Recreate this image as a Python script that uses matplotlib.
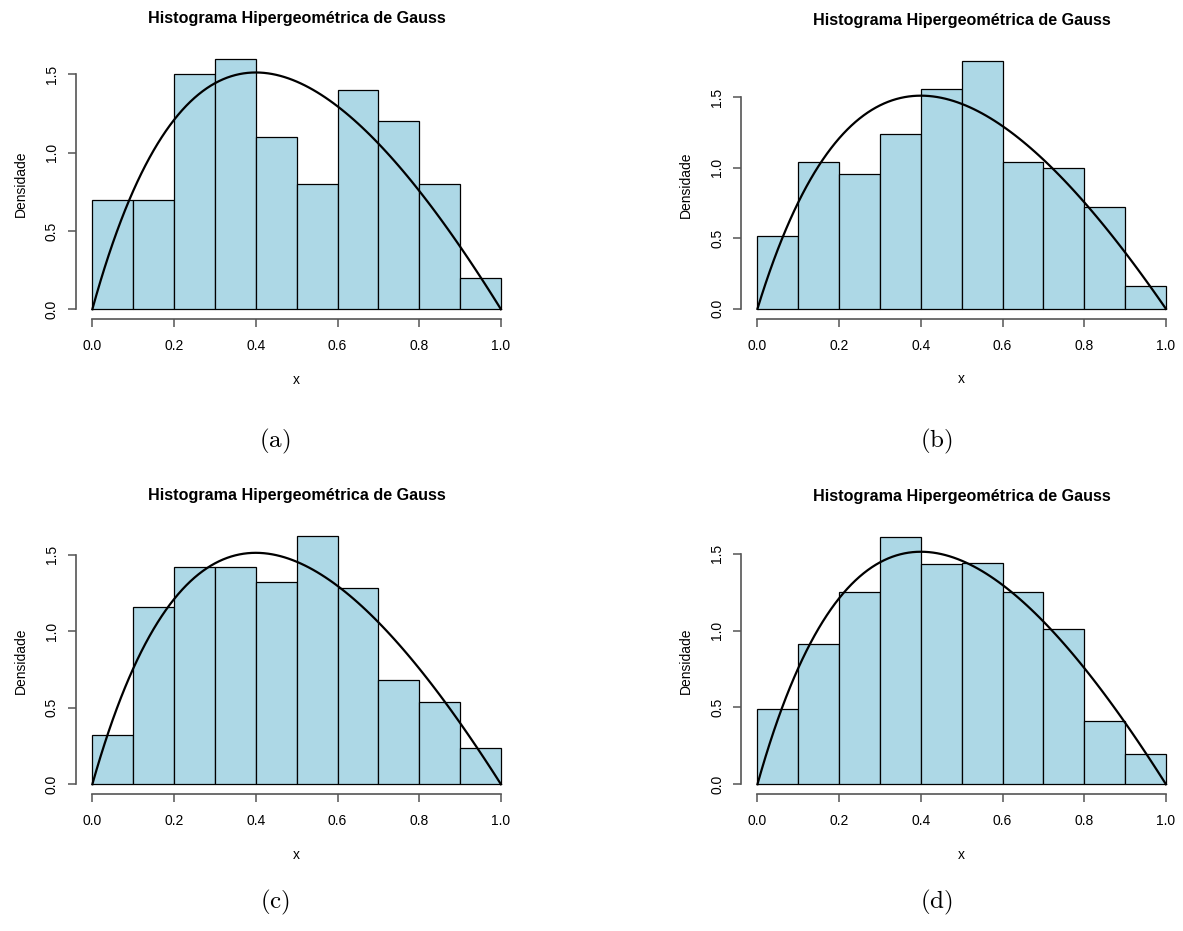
import numpy as np
import matplotlib.pyplot as plt

plt.rcParams['font.family'] = ['Liberation Sans', 'DejaVu Sans']
plt.rcParams['mathtext.fontset'] = 'cm'

# histogram densities, bins of width 0.1 on [0, 1]
bin_edges = [0.0, 0.1, 0.2, 0.3, 0.4, 0.5, 0.6, 0.7, 0.8, 0.9, 1.0]
dens_a = [0.70, 0.70, 1.50, 1.60, 1.10, 0.80, 1.40, 1.20, 0.80, 0.20]
dens_b = [0.52, 1.04, 0.96, 1.24, 1.56, 1.76, 1.04, 1.00, 0.72, 0.16]
dens_c = [0.32, 1.16, 1.42, 1.42, 1.32, 1.62, 1.28, 0.68, 0.54, 0.24]
dens_d = [0.49, 0.91, 1.25, 1.61, 1.43, 1.44, 1.25, 1.01, 0.41, 0.20]
captions = ['(a)', '(b)', '(c)', '(d)']

x_ticks = [0.0, 0.2, 0.4, 0.6, 0.8, 1.0]
y_ticks = [0.0, 0.5, 1.0, 1.5]

# Gauss hypergeometric density: x^(a-1) (1-x)^(b-1) / (1 + z x)^c
gh_a, gh_b, gh_c, gh_z = 2.0, 2.0, 1.0, 1.25


def gh_density(x):
    return x ** (gh_a - 1) * (1 - x) ** (gh_b - 1) / (1 + gh_z * x) ** gh_c


xs_fine = np.linspace(0, 1, 2001)
gh_norm = np.trapezoid(gh_density(xs_fine), xs_fine)
xs = np.linspace(0, 1, 101)
ys = gh_density(xs) / gh_norm

W, H = 1183, 931
fig = plt.figure(figsize=(W / 100, H / 100), dpi=100)

# plot regions in pixels: left, top, right, bottom
boxes = [(76, 48.7, 517.3, 319.3), (741.1, 50.8, 1182.3, 318.8),
         (76, 526.4, 517.3, 794.2), (741.1, 526.8, 1182.3, 794.2)]
caption_pos = [(275, 441), (936, 441), (275, 902), (936, 902)]

for dens, box, cap, cpos in zip([dens_a, dens_b, dens_c, dens_d], boxes,
                                captions, caption_pos):
    l, t, r, b = box
    ax = fig.add_axes([l / W, 1 - b / H, (r - l) / W, (b - t) / H])
    ymax = max(dens)
    ax.bar(bin_edges[:-1], dens, width=0.1, align='edge', color='#ADD8E6',
           edgecolor='black', linewidth=0.9)
    ax.plot(xs, ys, color='black', linewidth=1.6)
    ax.set_xlim(-0.04, 1.04)
    ax.set_ylim(-0.04 * ymax, 1.04 * ymax)

    for side in ['top', 'right']:
        ax.spines[side].set_visible(False)
    ax.spines['left'].set_bounds(y_ticks[0], y_ticks[-1])
    ax.spines['bottom'].set_bounds(x_ticks[0], x_ticks[-1])
    for side in ['left', 'bottom']:
        ax.spines[side].set_color('#555555')
        ax.spines[side].set_linewidth(1.2)

    ax.set_xticks(x_ticks)
    ax.set_xticklabels(['%.1f' % v for v in x_ticks])
    ax.set_yticks(y_ticks)
    ax.set_yticklabels(['%.1f' % v for v in y_ticks], rotation=90, va='center')
    ax.tick_params(axis='x', direction='out', length=5.8, width=1.1,
                   color='#555555', pad=8.6, labelsize=10)
    ax.tick_params(axis='y', direction='out', length=5.8, width=1.1,
                   color='#555555', pad=6.5, labelsize=10)

    ax.set_title('Histograma Hipergeométrica de Gauss', fontsize=11.6,
                 fontweight='bold', pad=18.7)
    ax.set_xlabel('x', fontsize=10, labelpad=14)
    ax.set_ylabel('Densidade', fontsize=10, labelpad=12)

    fig.text(cpos[0] / W, 1 - cpos[1] / H, r'$\mathrm{%s}$' % cap,
             fontsize=18, ha='center', va='center')

fig.savefig('out.png', dpi=100)
